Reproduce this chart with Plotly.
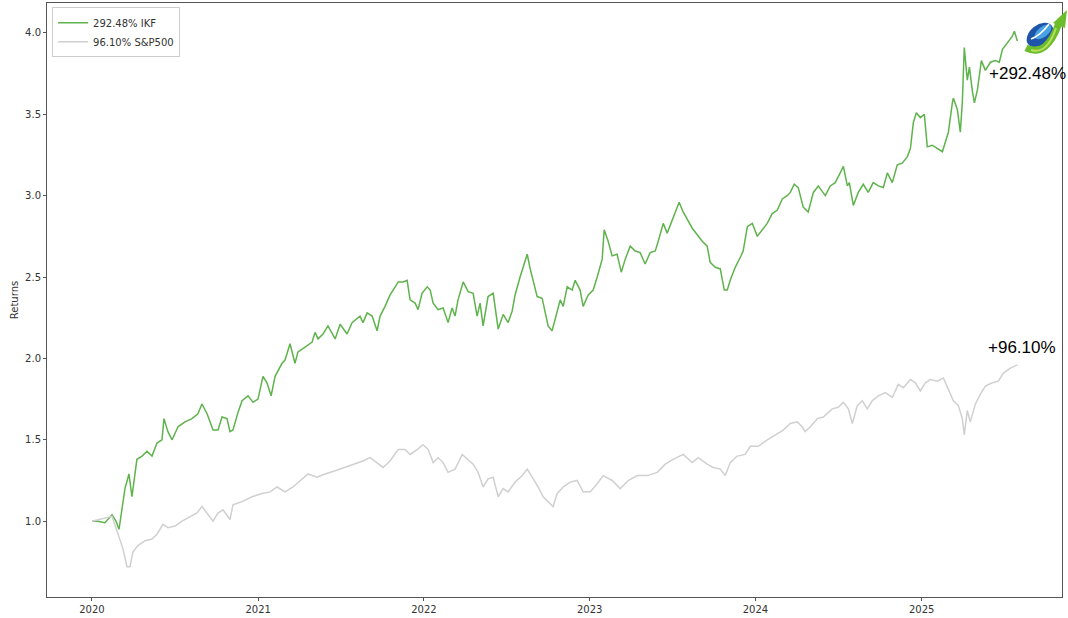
import base64
import pandas as pd
import plotly.graph_objects as go

# ---- data (time in years since 2020-01-01, value = growth of 1) ----
ikf_t = [0.000, 0.036, 0.078, 0.121, 0.145, 0.163, 0.199, 0.223, 0.241, 0.271, 0.302, 0.332, 0.362,
         0.392, 0.422, 0.434, 0.458, 0.483, 0.519, 0.561, 0.603, 0.639, 0.663, 0.694, 0.730, 0.760,
         0.784, 0.814, 0.832, 0.850, 0.881, 0.905, 0.941, 0.971, 1.001, 1.031, 1.055, 1.080, 1.104,
         1.146, 1.164, 1.194, 1.224, 1.242, 1.285, 1.327, 1.345, 1.363, 1.393, 1.423, 1.466, 1.496,
         1.538, 1.568, 1.616, 1.634, 1.659, 1.689, 1.719, 1.737, 1.767, 1.797, 1.828, 1.846, 1.876,
         1.900, 1.918, 1.948, 1.966, 1.990, 2.021, 2.039, 2.057, 2.087, 2.117, 2.147, 2.171, 2.189,
         2.207, 2.238, 2.268, 2.298, 2.322, 2.340, 2.358, 2.388, 2.419, 2.449, 2.479, 2.509, 2.533,
         2.551, 2.581, 2.600, 2.624, 2.642, 2.660, 2.684, 2.714, 2.732, 2.750, 2.774, 2.793, 2.823,
         2.841, 2.865, 2.895, 2.913, 2.943, 2.961, 2.992, 3.022, 3.046, 3.076, 3.088, 3.112, 3.136,
         3.166, 3.191, 3.215, 3.245, 3.275, 3.305, 3.335, 3.365, 3.396, 3.414, 3.444, 3.468, 3.498,
         3.516, 3.540, 3.564, 3.589, 3.619, 3.649, 3.679, 3.709, 3.727, 3.758, 3.788, 3.812, 3.830,
         3.848, 3.878, 3.908, 3.926, 3.951, 3.981, 4.011, 4.041, 4.071, 4.101, 4.131, 4.162, 4.192,
         4.210, 4.234, 4.258, 4.288, 4.318, 4.349, 4.379, 4.421, 4.451, 4.481, 4.511, 4.530, 4.554,
         4.566, 4.590, 4.620, 4.650, 4.680, 4.710, 4.741, 4.771, 4.795, 4.825, 4.855, 4.885, 4.916,
         4.934, 4.952, 4.970, 4.994, 5.018, 5.036, 5.066, 5.097, 5.127, 5.145, 5.163, 5.187, 5.193,
         5.217, 5.235, 5.247, 5.259, 5.277, 5.290, 5.308, 5.320, 5.338, 5.362, 5.386, 5.416, 5.446,
         5.470, 5.489, 5.519, 5.549, 5.561, 5.579]
ikf_v = [1.00, 1.00, 0.99, 1.04, 1.00, 0.95, 1.20, 1.29, 1.15, 1.38, 1.40, 1.43, 1.40,
         1.48, 1.50, 1.63, 1.55, 1.50, 1.58, 1.61, 1.63, 1.66, 1.72, 1.66, 1.56, 1.56,
         1.64, 1.63, 1.55, 1.56, 1.67, 1.74, 1.77, 1.73, 1.75, 1.89, 1.85, 1.77, 1.89,
         1.97, 1.99, 2.09, 1.97, 2.04, 2.07, 2.10, 2.16, 2.12, 2.15, 2.20, 2.12, 2.21,
         2.15, 2.22, 2.26, 2.22, 2.28, 2.26, 2.17, 2.26, 2.32, 2.39, 2.44, 2.47, 2.47,
         2.48, 2.36, 2.34, 2.30, 2.40, 2.44, 2.42, 2.34, 2.30, 2.31, 2.22, 2.31, 2.26,
         2.36, 2.47, 2.41, 2.40, 2.26, 2.34, 2.20, 2.38, 2.40, 2.18, 2.27, 2.22, 2.29,
         2.39, 2.50, 2.56, 2.64, 2.55, 2.48, 2.38, 2.37, 2.28, 2.20, 2.17, 2.24, 2.36,
         2.32, 2.44, 2.42, 2.48, 2.42, 2.32, 2.39, 2.42, 2.50, 2.61, 2.79, 2.72, 2.63,
         2.64, 2.53, 2.61, 2.69, 2.66, 2.65, 2.58, 2.65, 2.66, 2.72, 2.83, 2.77, 2.85,
         2.89, 2.96, 2.90, 2.85, 2.80, 2.76, 2.72, 2.69, 2.59, 2.56, 2.55, 2.42, 2.42,
         2.48, 2.56, 2.62, 2.66, 2.81, 2.83, 2.75, 2.79, 2.83, 2.89, 2.91, 2.98, 3.00,
         3.02, 3.07, 3.05, 2.93, 2.90, 3.02, 3.06, 3.00, 3.06, 3.08, 3.14, 3.18, 3.06,
         3.08, 2.94, 3.02, 3.07, 3.02, 3.08, 3.06, 3.05, 3.14, 3.08, 3.19, 3.20, 3.24,
         3.29, 3.45, 3.51, 3.48, 3.50, 3.30, 3.31, 3.29, 3.27, 3.33, 3.39, 3.57, 3.60,
         3.53, 3.39, 3.57, 3.91, 3.71, 3.79, 3.64, 3.57, 3.65, 3.83, 3.77, 3.82, 3.83,
         3.82, 3.90, 3.94, 3.98, 4.01, 3.95]

spx_t = [0.000, 0.078, 0.121, 0.151, 0.169, 0.187, 0.211, 0.229, 0.247, 0.277, 0.320, 0.362, 0.392,
         0.428, 0.458, 0.501, 0.543, 0.579, 0.633, 0.663, 0.700, 0.730, 0.760, 0.790, 0.832, 0.850,
         0.905, 0.965, 1.025, 1.074, 1.116, 1.164, 1.212, 1.267, 1.303, 1.357, 1.405, 1.466, 1.526,
         1.586, 1.634, 1.677, 1.719, 1.755, 1.797, 1.846, 1.888, 1.918, 1.960, 1.996, 2.027, 2.057,
         2.087, 2.117, 2.147, 2.189, 2.232, 2.268, 2.298, 2.328, 2.358, 2.388, 2.419, 2.449, 2.479,
         2.509, 2.551, 2.594, 2.624, 2.654, 2.690, 2.720, 2.750, 2.780, 2.805, 2.841, 2.883, 2.925,
         2.961, 3.004, 3.046, 3.082, 3.136, 3.185, 3.233, 3.287, 3.347, 3.408, 3.456, 3.504, 3.564,
         3.619, 3.655, 3.709, 3.745, 3.788, 3.818, 3.848, 3.890, 3.938, 3.969, 4.017, 4.071, 4.119,
         4.168, 4.210, 4.252, 4.282, 4.300, 4.331, 4.373, 4.409, 4.463, 4.499, 4.530, 4.560, 4.584,
         4.614, 4.644, 4.674, 4.704, 4.741, 4.783, 4.825, 4.861, 4.891, 4.934, 4.964, 4.994, 5.024,
         5.054, 5.097, 5.133, 5.163, 5.193, 5.223, 5.247, 5.259, 5.277, 5.295, 5.326, 5.356, 5.386,
         5.428, 5.464, 5.495, 5.537, 5.579]
spx_v = [1.00, 1.02, 1.03, 0.94, 0.89, 0.83, 0.72, 0.72, 0.81, 0.85, 0.88, 0.89, 0.92,
         0.98, 0.96, 0.97, 1.00, 1.02, 1.05, 1.09, 1.04, 1.00, 1.05, 1.07, 1.01, 1.10,
         1.12, 1.15, 1.17, 1.18, 1.21, 1.18, 1.21, 1.26, 1.29, 1.27, 1.29, 1.31, 1.33,
         1.35, 1.37, 1.39, 1.36, 1.33, 1.37, 1.44, 1.44, 1.41, 1.44, 1.47, 1.44, 1.36,
         1.39, 1.36, 1.30, 1.32, 1.41, 1.38, 1.35, 1.30, 1.21, 1.26, 1.27, 1.15, 1.20,
         1.18, 1.24, 1.28, 1.32, 1.27, 1.21, 1.15, 1.12, 1.09, 1.17, 1.21, 1.24, 1.25,
         1.18, 1.18, 1.23, 1.28, 1.25, 1.20, 1.25, 1.28, 1.28, 1.30, 1.35, 1.38, 1.41,
         1.36, 1.39, 1.35, 1.33, 1.32, 1.28, 1.36, 1.40, 1.41, 1.46, 1.46, 1.50, 1.53,
         1.56, 1.60, 1.61, 1.58, 1.55, 1.58, 1.63, 1.64, 1.69, 1.70, 1.73, 1.69, 1.60,
         1.71, 1.74, 1.69, 1.74, 1.77, 1.79, 1.76, 1.84, 1.82, 1.87, 1.85, 1.80, 1.85,
         1.87, 1.86, 1.88, 1.81, 1.74, 1.71, 1.63, 1.53, 1.68, 1.61, 1.72, 1.78, 1.83,
         1.85, 1.86, 1.91, 1.94, 1.96]

series_names = ["292.48% IKF", "96.10% S&P500"]
end_labels = ["+292.48%", "+96.10%"]
year_ticks = ["2020", "2021", "2022", "2023", "2024", "2025"]
y_ticks = [1.0, 1.5, 2.0, 2.5, 3.0, 3.5, 4.0]

start = pd.Timestamp("2020-01-01")


def to_dates(ts):
    return [start + pd.to_timedelta(t * 365.25, unit="D") for t in ts]


ikf_x = to_dates(ikf_t)
spx_x = to_dates(spx_t)

fig = go.Figure()
fig.add_trace(go.Scatter(x=ikf_x, y=ikf_v, mode="lines", name=series_names[0],
                         line=dict(color="#5fb34c", width=1.5)))
fig.add_trace(go.Scatter(x=spx_x, y=spx_v, mode="lines", name=series_names[1],
                         line=dict(color="#d0d0d0", width=1.5)))

# end annotations
fig.add_annotation(x=ikf_x[-1], y=ikf_v[-1], text=end_labels[0], showarrow=False,
                   xref="x", yref="y", xanchor="left", xshift=-30, yshift=-32,
                   font=dict(family="Liberation Sans", size=17, color="#000000"))
fig.add_annotation(x=spx_x[-1], y=spx_v[-1], text=end_labels[1], showarrow=False,
                   xref="x", yref="y", xanchor="left", xshift=-31, yshift=17,
                   font=dict(family="Liberation Sans", size=17, color="#000000"))

# logo (decorative)
svg = """<svg xmlns='http://www.w3.org/2000/svg' viewBox='0 0 46 48' width='46' height='48'>
<ellipse cx='18' cy='27' rx='15' ry='10' transform='rotate(-38 18 27)' fill='#1f55a8'/>
<ellipse cx='21' cy='24' rx='10' ry='5' transform='rotate(-38 21 24)' fill='#48a2e4'/>
<path d='M9 31 Q18 28 27 16' stroke='#ffffff' stroke-width='1.6' fill='none'/>
<path d='M4 40 Q25 50 37 15' stroke='#6cbd2b' stroke-width='7' fill='none'/>
<path d='M31 15 L45 2 L43 20 Z' fill='#6cbd2b'/>
<path d='M9 42 Q25 47 34 20' stroke='#b8de5c' stroke-width='2' fill='none'/>
</svg>"""
logo_src = "data:image/svg+xml;base64," + base64.b64encode(svg.encode()).decode()
fig.add_layout_image(dict(source=logo_src, xref="paper", yref="paper",
                          x=0.9606, y=0.9916, sizex=0.0453, sizey=0.0807,
                          xanchor="left", yanchor="top", sizing="stretch", layer="above"))

axis_common = dict(showline=True, linecolor="#555555", linewidth=1, mirror=True,
                   showgrid=False, zeroline=False, ticks="outside", ticklen=3,
                   tickcolor="#555555", tickfont=dict(family="DejaVu Sans", size=10, color="#333333"))

fig.update_layout(
    width=1068, height=618,
    margin=dict(l=47, r=6, t=3, b=21),
    paper_bgcolor="white", plot_bgcolor="white",
    xaxis=dict(range=[pd.Timestamp("2019-09-24"), pd.Timestamp("2025-11-06")],
               tickvals=[pd.Timestamp(y + "-01-01") for y in year_ticks],
               ticktext=year_ticks, **axis_common),
    yaxis=dict(range=[0.534, 4.184], tickvals=y_ticks,
               ticktext=[f"{v:.1f}" for v in y_ticks],
               title=dict(text="Returns", font=dict(family="DejaVu Sans", size=10, color="#333333"),
                          standoff=4),
               **axis_common),
    legend=dict(x=0.005, y=0.993, xanchor="left", yanchor="top",
                bgcolor="rgba(255,255,255,0.9)", bordercolor="#cccccc", borderwidth=1,
                font=dict(family="DejaVu Sans", size=10, color="#333333"),
                tracegroupgap=0, itemwidth=30),
    showlegend=True,
)

fig.write_html("out.html", config={"displayModeBar": False},
               post_script="document.body.style.margin='0';document.body.style.padding='0';"
                           "document.body.style.overflow='hidden';")
